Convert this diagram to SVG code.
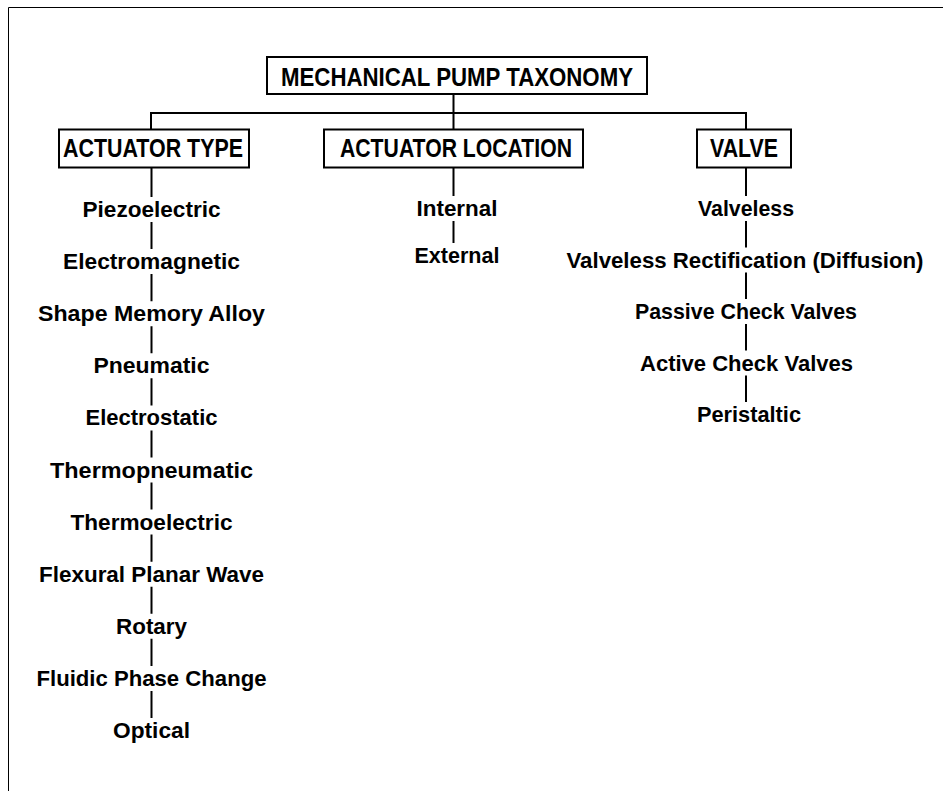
<svg xmlns="http://www.w3.org/2000/svg" width="943" height="791" viewBox="0 0 943 791">
<style>
.box{fill:#fff;stroke:#000;stroke-width:2}
.hd{font-family:"Liberation Sans",Arial,sans-serif;font-weight:bold;font-size:25px;text-anchor:middle;fill:#000}
.it{font-family:"Liberation Sans",Arial,sans-serif;font-weight:bold;font-size:22px;text-anchor:middle;fill:#000}
.ln{stroke:#000;stroke-width:2;fill:none}
.bd{stroke:#000;stroke-width:1;fill:none}
</style>
<rect width="943" height="791" fill="#fff"/>
<path class="bd" d="M8.5,791 V7.5 H943"/>
<g id="connectors">
<path class="ln" d="M453.5,94 V129 M151,129 V113 H746 V129"/>
<path class="ln" d="M151.5,168 V197 M151.5,222 V249.1 M151.5,274.1 V301.2 M151.5,326.2 V353.3 M151.5,378.3 V405.4 M151.5,430.4 V457.5 M151.5,482.5 V509.6 M151.5,534.6 V561.7 M151.5,586.7 V613.8 M151.5,638.8 V665.9 M151.5,690.9 V718"/>
<path class="ln" d="M453.5,168 V196 M453.5,221 V243"/>
<path class="ln" d="M746,168 V196 M746,221 V247.5 M746,272.5 V299 M746,324 V350.5 M746,375.5 V402"/>
</g>
<g id="root">
<rect class="box" x="267" y="57" width="380" height="37"/>
<text class="hd" x="457" y="86" textLength="352" lengthAdjust="spacingAndGlyphs">MECHANICAL PUMP TAXONOMY</text>
</g>
<g id="actuator-type">
<rect class="box" x="59" y="129.5" width="190" height="38"/>
<text class="hd" x="153" y="156.5" textLength="180" lengthAdjust="spacingAndGlyphs">ACTUATOR TYPE</text>
</g>
<g id="actuator-location">
<rect class="box" x="324" y="129.5" width="259" height="38"/>
<text class="hd" x="456" y="156.5" textLength="232" lengthAdjust="spacingAndGlyphs">ACTUATOR LOCATION</text>
</g>
<g id="valve">
<rect class="box" x="697" y="129.5" width="94" height="38"/>
<text class="hd" x="744" y="156.5" textLength="68" lengthAdjust="spacingAndGlyphs">VALVE</text>
</g>
<g id="type-items">
<text class="it" x="151.5" y="217" textLength="138" lengthAdjust="spacingAndGlyphs">Piezoelectric</text>
<text class="it" x="151.5" y="269.1" textLength="177" lengthAdjust="spacingAndGlyphs">Electromagnetic</text>
<text class="it" x="151.5" y="321.2" textLength="227" lengthAdjust="spacingAndGlyphs">Shape Memory Alloy</text>
<text class="it" x="151.5" y="373.3" textLength="116" lengthAdjust="spacingAndGlyphs">Pneumatic</text>
<text class="it" x="151.5" y="425.4" textLength="132" lengthAdjust="spacingAndGlyphs">Electrostatic</text>
<text class="it" x="151.5" y="477.5" textLength="203" lengthAdjust="spacingAndGlyphs">Thermopneumatic</text>
<text class="it" x="151.5" y="529.6" textLength="162" lengthAdjust="spacingAndGlyphs">Thermoelectric</text>
<text class="it" x="151.5" y="581.7" textLength="225" lengthAdjust="spacingAndGlyphs">Flexural Planar Wave</text>
<text class="it" x="151.5" y="633.8" textLength="71" lengthAdjust="spacingAndGlyphs">Rotary</text>
<text class="it" x="151.5" y="685.9" textLength="230" lengthAdjust="spacingAndGlyphs">Fluidic Phase Change</text>
<text class="it" x="151.5" y="738" textLength="77" lengthAdjust="spacingAndGlyphs">Optical</text>
</g>
<g id="location-items">
<text class="it" x="457" y="216" textLength="81" lengthAdjust="spacingAndGlyphs">Internal</text>
<text class="it" x="457" y="263" textLength="85" lengthAdjust="spacingAndGlyphs">External</text>
</g>
<g id="valve-items">
<text class="it" x="746" y="216" textLength="96" lengthAdjust="spacingAndGlyphs">Valveless</text>
<text class="it" x="745" y="267.5" textLength="357" lengthAdjust="spacingAndGlyphs">Valveless Rectification (Diffusion)</text>
<text class="it" x="746" y="319" textLength="222" lengthAdjust="spacingAndGlyphs">Passive Check Valves</text>
<text class="it" x="746.5" y="370.5" textLength="213" lengthAdjust="spacingAndGlyphs">Active Check Valves</text>
<text class="it" x="749" y="422" textLength="104" lengthAdjust="spacingAndGlyphs">Peristaltic</text>
</g>
</svg>
